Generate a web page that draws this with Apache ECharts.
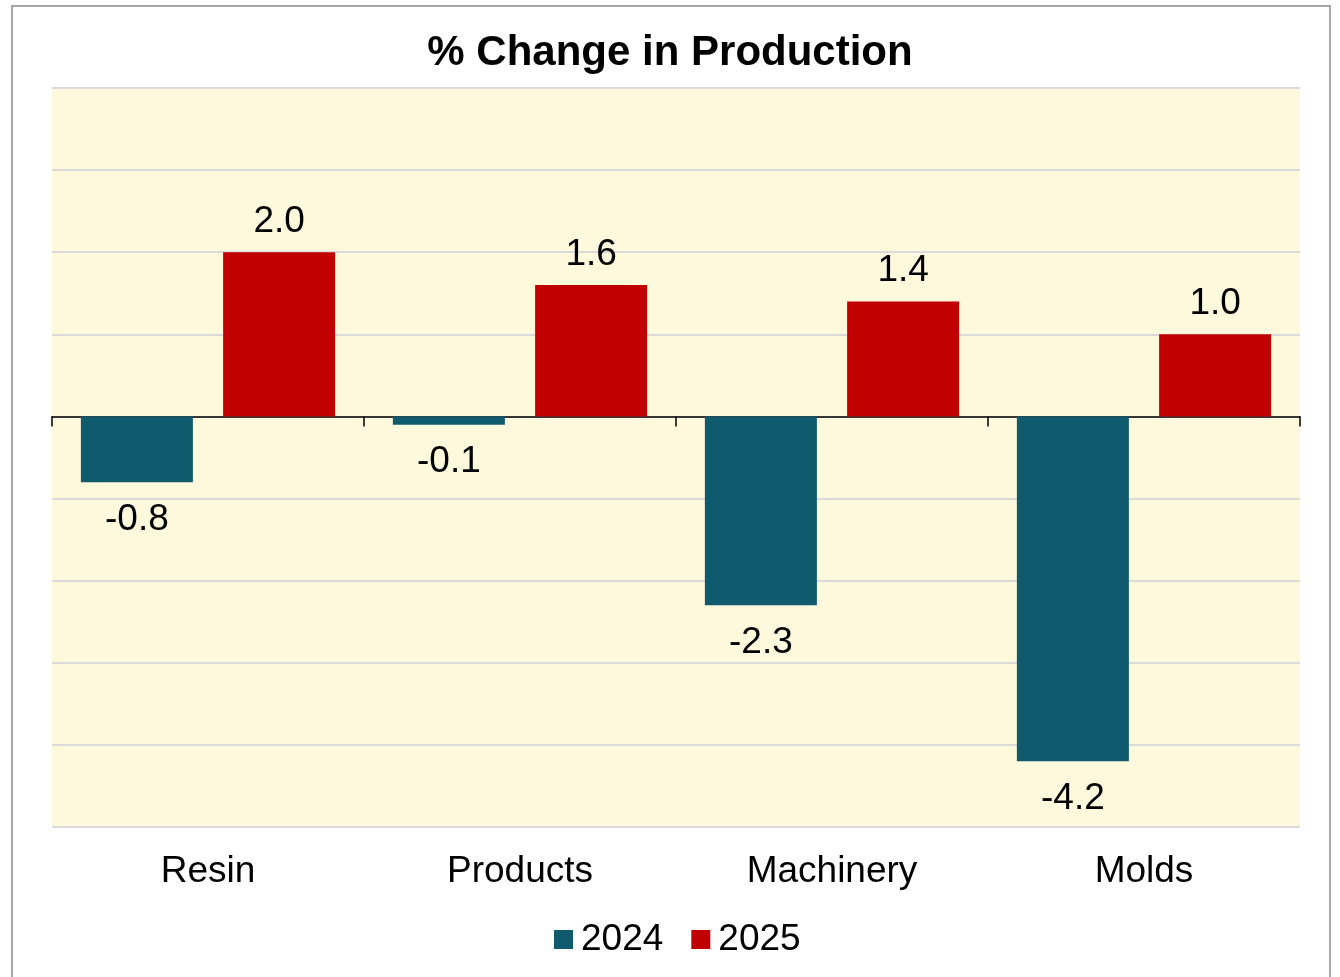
<!DOCTYPE html>
<html>
<head>
<meta charset="utf-8">
<title>% Change in Production</title>
<script src="https://cdn.jsdelivr.net/npm/echarts@6/dist/echarts.min.js"></script>
<style>
  html, body { margin: 0; padding: 0; background: #fff; }
  #chart { width: 1340px; height: 977px; }
</style>
</head>
<body>
<div id="chart"></div>
<script>
// data
var categories = ['Resin', 'Products', 'Machinery', 'Molds'];
var values2024 = [-0.8, -0.1, -2.3, -4.2];
var values2025 = [2.0, 1.6, 1.4, 1.0];
var seriesNames = ['2024', '2025'];

var FONT = "'Liberation Sans', Arial, sans-serif";

// negative bars get their label underneath
function withLabels(vals) {
  return vals.map(function (v) {
    return {
      value: v,
      label: v < 0 ? { position: 'bottom', distance: 19 } : { position: 'top', distance: 12 }
    };
  });
}

var chart = echarts.init(document.getElementById('chart'), null, { renderer: 'canvas' });

chart.setOption({
  backgroundColor: '#ffffff',
  animation: false,
  textStyle: { fontFamily: FONT },
  graphic: [{
    type: 'rect',
    shape: { x: 12, y: 6, width: 1318, height: 1000 },
    style: { fill: 'none', stroke: '#A6A6A6', lineWidth: 2 },
    silent: true
  }],
  title: {
    text: '% Change in Production',
    left: 'center',
    top: 27,
    textStyle: { fontFamily: FONT, fontSize: 42, fontWeight: 'bold', color: '#000' }
  },
  legend: {
    data: seriesNames,
    left: 554,
    top: 921,
    padding: 0,
    icon: 'rect',
    itemWidth: 19,
    itemHeight: 19,
    itemGap: 28,
    textStyle: { fontFamily: FONT, fontSize: 37, color: '#000', padding: [0, 0, 0, 3] }
  },
  grid: {
    left: 52,
    right: 40,
    top: 88,
    bottom: 150,
    show: true,
    backgroundColor: '#FEF9DC',
    borderWidth: 0,
    containLabel: false
  },
  xAxis: [{
    type: 'category',
    data: categories,
    position: 'bottom',
    axisLine: { show: true, onZero: true, lineStyle: { color: '#000', width: 1.5 } },
    axisTick: { show: true, length: 10, lineStyle: { color: '#000', width: 1.5 } },
    axisLabel: { show: false },
    splitLine: { show: false }
  }, {
    type: 'category',
    data: categories,
    position: 'bottom',
    axisLine: { show: false, onZero: false },
    axisTick: { show: false },
    axisLabel: { show: true, margin: 26, fontFamily: FONT, fontSize: 37, color: '#000' },
    splitLine: { show: false }
  }],
  yAxis: {
    type: 'value',
    min: -5,
    max: 4,
    interval: 1,
    axisLine: { show: false },
    axisTick: { show: false },
    axisLabel: { show: false },
    splitLine: { show: true, lineStyle: { color: '#DADADA', width: 2 } }
  },
  series: [{
    name: seriesNames[0],
    type: 'bar',
    xAxisIndex: 0,
    data: withLabels(values2024),
    itemStyle: { color: '#0F5A6C' },
    barGap: '27%',
    barCategoryGap: '18.5%',
    label: {
      show: true,
      fontFamily: FONT,
      fontSize: 37,
      color: '#000',
      formatter: function (p) { return p.value.toFixed(1); }
    }
  }, {
    name: seriesNames[1],
    type: 'bar',
    xAxisIndex: 0,
    data: withLabels(values2025),
    itemStyle: { color: '#C00000' },
    barGap: '27%',
    barCategoryGap: '18.5%',
    label: {
      show: true,
      fontFamily: FONT,
      fontSize: 37,
      color: '#000',
      formatter: function (p) { return p.value.toFixed(1); }
    }
  }]
});

window.addEventListener('resize', function () { chart.resize(); });
</script>
</body>
</html>
